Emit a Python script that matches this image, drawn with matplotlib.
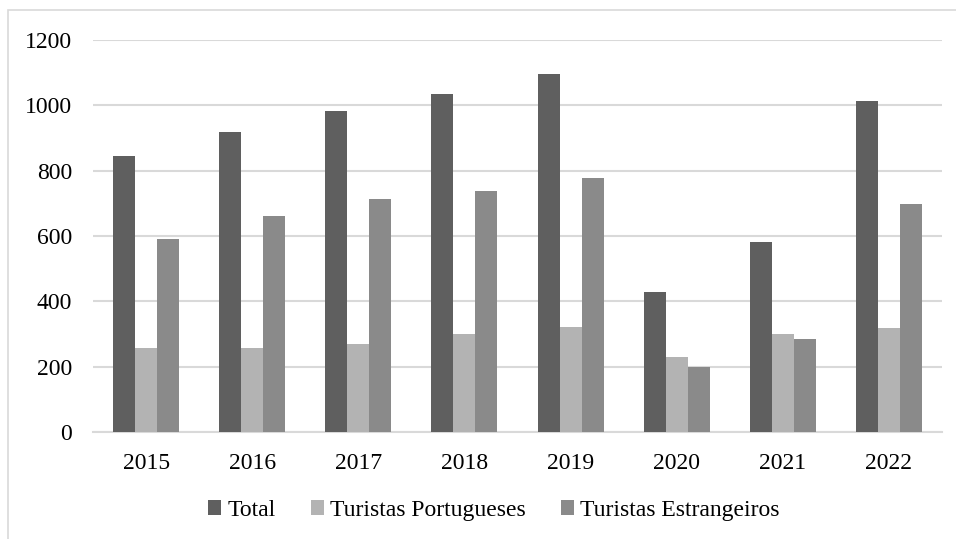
import numpy as np
import matplotlib.pyplot as plt
from matplotlib.patches import Rectangle

# Data
years = ["2015", "2016", "2017", "2018", "2019", "2020", "2021", "2022"]
total = [845, 918, 982, 1035, 1096, 428, 582, 1013]
portugueses = [256, 258, 269, 300, 320, 230, 299, 317]
estrangeiros = [591, 660, 713, 738, 777, 199, 284, 698]

series = ["Total", "Turistas Portugueses", "Turistas Estrangeiros"]
colors = ["#5f5f5f", "#b3b3b3", "#8a8a8a"]

plt.rcParams['font.family'] = ['Liberation Serif', 'DejaVu Serif']

fig = plt.figure(figsize=(9.56, 5.39), dpi=100)
ax = fig.add_axes([93 / 956, 1 - 432 / 539, (942 - 93) / 956, (432 - 40) / 539])

# partial outer frame (left and top edges visible)
fig.patches.append(Rectangle((8 / 956, -0.1), 1.2, 1 - 10 / 539 + 0.1,
                             transform=fig.transFigure, fill=False,
                             edgecolor="#d9d9d9", linewidth=1.2))

x = np.arange(len(years))
w = 0.207
for i, (vals, name, c) in enumerate(zip([total, portugueses, estrangeiros], series, colors)):
    ax.bar(x + (i - 1) * w, vals, width=w, color=c, label=name, zorder=3)

ax.set_xlim(-0.5, len(years) - 0.5)
ax.set_ylim(0, 1200)
ax.set_yticks(range(0, 1201, 200))
ax.set_xticks(x)
ax.set_xticklabels(years)
ax.yaxis.grid(True, color="#d9d9d9", linewidth=1.5, zorder=0)
ax.set_axisbelow(True)
for s in ["top", "right", "left"]:
    ax.spines[s].set_visible(False)
ax.spines["bottom"].set_color("#d9d9d9")
ax.spines["bottom"].set_linewidth(1.5)
ax.tick_params(axis="both", length=0, labelsize=17, colors="#000000")
ax.tick_params(axis="y", pad=15)
ax.tick_params(axis="x", pad=15)

ax.legend(loc="center", bbox_to_anchor=(0.472, -0.2), ncol=3, frameon=False,
          fontsize=17, handlelength=0.55, handleheight=0.55, handletextpad=0.25,
          columnspacing=1.5)

fig.savefig("out.png", dpi=100)
